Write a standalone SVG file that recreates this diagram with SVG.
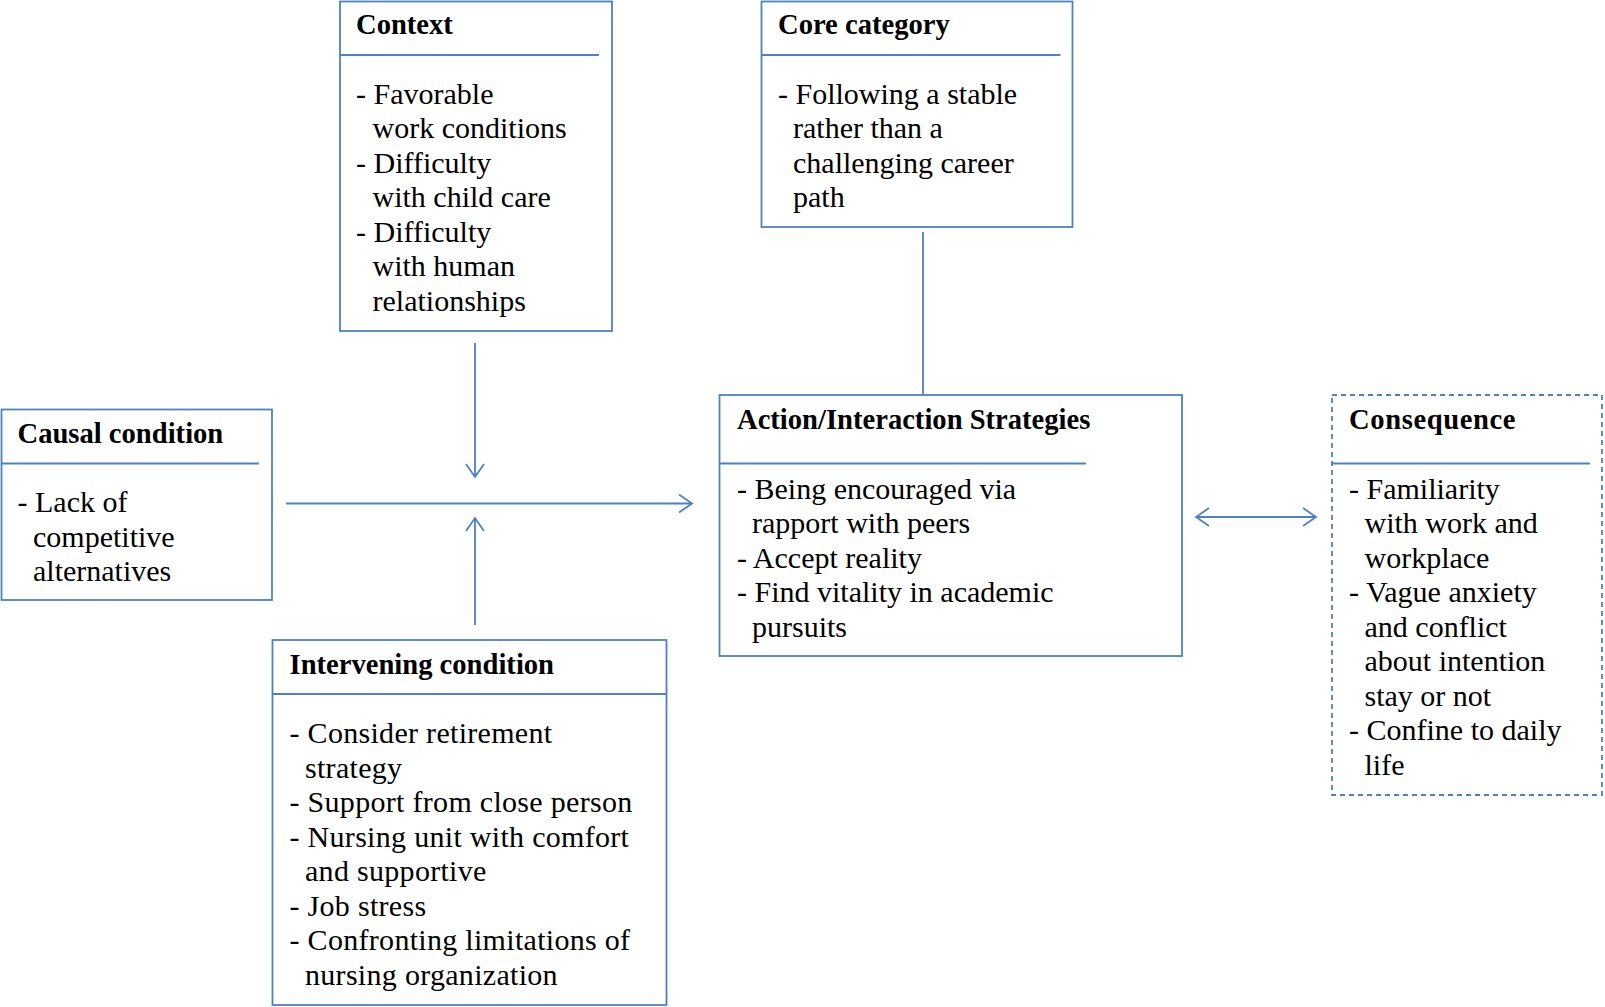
<svg xmlns="http://www.w3.org/2000/svg" width="1605" height="1007" viewBox="0 0 1605 1007">
<defs>
<style>
.box{fill:#fff;stroke:#4f81bd;stroke-width:1.8}
.dash{fill:#fff;stroke:#4f81bd;stroke-width:1.8;stroke-dasharray:5 4}
.sep{stroke:#4f81bd;stroke-width:1.8}
.title{font-family:"Liberation Serif",serif;font-weight:bold;font-size:28.6px;fill:#000}
.body{font-family:"Liberation Serif",serif;font-size:30px;fill:#000}
.wide{letter-spacing:0.3px}
.conn{stroke:#4f81bd;stroke-width:1.8;fill:none}
</style>
<marker id="arr" viewBox="0 0 16 20" refX="14" refY="10" markerWidth="16" markerHeight="20" markerUnits="userSpaceOnUse" orient="auto-start-reverse">
<path d="M1,1 L14,10 L1,19" fill="none" stroke="#4f81bd" stroke-width="1.8"/>
</marker>
</defs>
<rect width="1605" height="1007" fill="#fff"/>
<g id="connectors">
<line class="conn" x1="923" y1="232" x2="923" y2="395"/>
<line class="conn" x1="286" y1="503.5" x2="692" y2="503.5" marker-end="url(#arr)"/>
<line class="conn" x1="475" y1="343" x2="475" y2="477" marker-end="url(#arr)"/>
<line class="conn" x1="475" y1="625" x2="475" y2="518" marker-end="url(#arr)"/>
<line class="conn" x1="1196" y1="517" x2="1316" y2="517" marker-start="url(#arr)" marker-end="url(#arr)"/>
</g>
<g id="context">
<rect class="box" x="340" y="1.5" width="272" height="329.5"/>
<line class="sep" x1="340" y1="55" x2="599" y2="55"/>
<text class="title" x="356" y="34">Context</text>
<text class="body"><tspan x="356" y="103.5">- Favorable</tspan><tspan x="372.5" y="138">work conditions</tspan><tspan x="356" y="172.5">- Difficulty</tspan><tspan x="372.5" y="207">with child care</tspan><tspan x="356" y="241.5">- Difficulty</tspan><tspan x="372.5" y="276">with human</tspan><tspan x="372.5" y="310.5">relationships</tspan></text>
</g>
<g id="core-category">
<rect class="box" x="761.5" y="1.5" width="311" height="225.5"/>
<line class="sep" x1="761.5" y1="55" x2="1060.5" y2="55"/>
<text class="title" x="778" y="34">Core category</text>
<text class="body"><tspan x="778" y="103.5">- Following a stable</tspan><tspan x="793" y="138">rather than a</tspan><tspan x="793" y="172.5">challenging career</tspan><tspan x="793" y="207">path</tspan></text>
</g>
<g id="causal-condition">
<rect class="box" x="1.5" y="409.5" width="270.5" height="190.5"/>
<line class="sep" x1="1.5" y1="463.5" x2="259" y2="463.5"/>
<text class="title" x="17.5" y="443">Causal condition</text>
<text class="body"><tspan x="17.5" y="512">- Lack of</tspan><tspan x="33" y="546.5">competitive</tspan><tspan x="33" y="581">alternatives</tspan></text>
</g>
<g id="action-interaction-strategies">
<rect class="box" x="719.5" y="395" width="462.5" height="261"/>
<line class="sep" x1="719.5" y1="463.5" x2="1086" y2="463.5"/>
<text class="title" x="737" y="429">Action/Interaction Strategies</text>
<text class="body"><tspan x="737" y="498.5">- Being encouraged via</tspan><tspan x="752" y="533">rapport with peers</tspan><tspan x="737" y="567.5">- Accept reality</tspan><tspan x="737" y="602">- Find vitality in academic</tspan><tspan x="752" y="636.5">pursuits</tspan></text>
</g>
<g id="consequence">
<rect class="dash" x="1332" y="395" width="270" height="400"/>
<line class="sep" x1="1332" y1="463.5" x2="1590" y2="463.5"/>
<text class="title" x="1349" y="429" style="letter-spacing:0.6px">Consequence</text>
<text class="body"><tspan x="1349" y="498.5">- Familiarity</tspan><tspan x="1364.5" y="533">with work and</tspan><tspan x="1364.5" y="567.5">workplace</tspan><tspan x="1349" y="602">- Vague anxiety</tspan><tspan x="1364.5" y="636.5">and conflict</tspan><tspan x="1364.5" y="671">about intention</tspan><tspan x="1364.5" y="705.5">stay or not</tspan><tspan x="1349" y="740">- Confine to daily</tspan><tspan x="1364.5" y="774.5">life</tspan></text>
</g>
<g id="intervening-condition">
<rect class="box" x="272.5" y="640" width="394" height="365"/>
<line class="sep" x1="272.5" y1="694" x2="666.5" y2="694"/>
<text class="title" x="289.5" y="673.5">Intervening condition</text>
<text class="body wide"><tspan x="289.5" y="743">- Consider retirement</tspan><tspan x="305" y="777.5">strategy</tspan><tspan x="289.5" y="812">- Support from close person</tspan><tspan x="289.5" y="846.5">- Nursing unit with comfort</tspan><tspan x="305" y="881">and supportive</tspan><tspan x="289.5" y="915.5">- Job stress</tspan><tspan x="289.5" y="950">- Confronting limitations of</tspan><tspan x="305" y="984.5">nursing organization</tspan></text>
</g>
</svg>
